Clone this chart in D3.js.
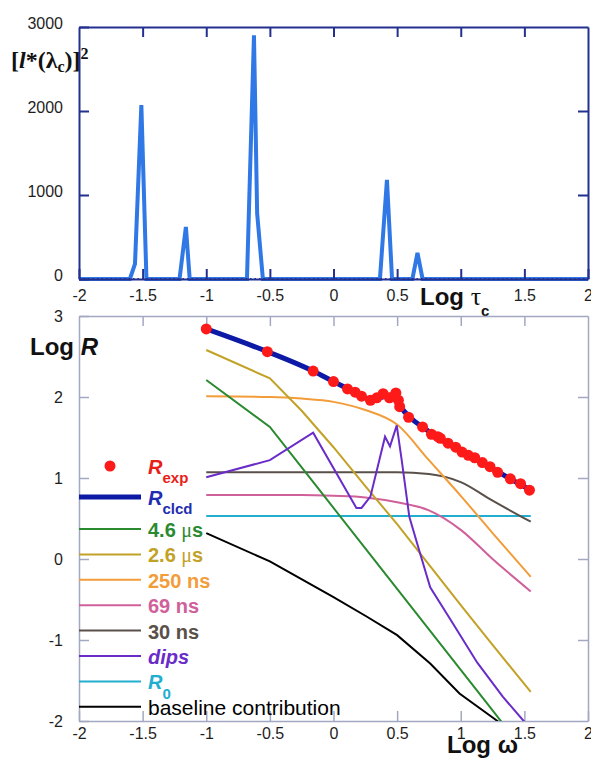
<!DOCTYPE html>
<html>
<head>
<meta charset="utf-8">
<script src="https://cdnjs.cloudflare.com/ajax/libs/d3/7.8.5/d3.min.js"></script>
<style>
  body { margin: 0; background: #fff; }
  svg { display: block; font-family: "Liberation Sans", Arial, sans-serif; }
</style>
</head>
<body>
<div class="canvas"></div>
<script>
// ---- top panel: [l*(lambda_c)]^2 vs log tau_c
const logTau  = [-2, -1.6, -1.56, -1.51, -1.47, -1.21, -1.16, -1.13, -0.68, -0.625, -0.6, -0.555, 0.365, 0.42, 0.46, 0.62, 0.66, 0.7, 2];
const lStarSq = [0, 0, 180, 2070, 0, 0, 620, 0, 0, 2900, 780, 0, 0, 1180, 0, 0, 310, 0, 0];
const tauTicks = [-2, -1.5, -1, -0.5, 0, 0.5, 1, 1.5, 2];
const lTicks = [0, 1000, 2000, 3000];

// ---- bottom panel: log R vs log omega
const rExpW = [-1.0, -0.52, -0.16, 0.0, 0.11, 0.17, 0.22, 0.29, 0.34, 0.39, 0.44, 0.49, 0.51, 0.52, 0.59, 0.70, 0.77, 0.82, 0.84, 0.90, 0.96, 1.01, 1.06, 1.11, 1.17, 1.23, 1.29, 1.39, 1.47, 1.54];
const rExp  = [2.84, 2.56, 2.32, 2.19, 2.10, 2.06, 2.01, 1.96, 1.99, 2.04, 1.99, 2.05, 1.96, 1.88, 1.75, 1.63, 1.54, 1.51, 1.49, 1.43, 1.38, 1.32, 1.28, 1.25, 1.19, 1.14, 1.07, 0.99, 0.93, 0.85];

const clcdW = [-1.0, -0.52, -0.16, 0.0, 0.1, 0.2, 0.29, 0.36, 0.42, 0.47, 0.5, 0.53, 0.6, 0.7, 0.8, 1.0, 1.2, 1.4, 1.55];
const rClcd = [2.84, 2.56, 2.32, 2.19, 2.11, 2.03, 1.97, 1.99, 2.01, 2.03, 1.98, 1.88, 1.75, 1.63, 1.52, 1.33, 1.16, 0.98, 0.85];

const compW  = [-1, -0.5, -0.25, 0, 0.25, 0.5, 0.75, 1, 1.25, 1.55];
const c46us  = [2.21, 1.63, 1.13, 0.63, 0.13, -0.37, -0.87, -1.37, -1.87, -2.47];
const c26us  = [2.58, 2.23, 1.83, 1.38, 0.90, 0.43, -0.07, -0.57, -1.06, -1.64];
const c250ns = [2.01, 2.0, 1.98, 1.94, 1.84, 1.66, 1.22, 0.78, 0.32, -0.22];
const c69ns  = [0.79, 0.79, 0.79, 0.78, 0.76, 0.70, 0.60, 0.36, 0.0, -0.40];
const c30ns  = [1.07, 1.07, 1.07, 1.07, 1.07, 1.07, 1.05, 0.95, 0.72, 0.46];
const cR0    = [0.53, 0.53, 0.53, 0.53, 0.53, 0.53, 0.53, 0.53, 0.53, 0.53];

const dipsW = [-1, -0.5, -0.16, 0.18, 0.22, 0.29, 0.405, 0.444, 0.497, 0.536, 0.596, 0.68, 0.76, 0.92, 1.13, 1.33, 1.55];
const dips  = [1.01, 1.22, 1.56, 0.63, 0.63, 0.77, 1.51, 1.39, 1.65, 1.22, 0.52, 0.07, -0.35, -0.75, -1.28, -1.70, -2.1];

const baseW = [-1, -0.5, 0, 0.26, 0.5, 0.76, 0.99, 1.28, 1.35];
const baseC = [0.32, -0.03, -0.47, -0.71, -0.94, -1.29, -1.66, -1.99, -2.08];

const omegaTicks = [-2, -1.5, -1, -0.5, 0, 0.5, 1, 1.5, 2];
const rTicks = [-2, -1, 0, 1, 2, 3];

const legendMain = ['R', 'R', '4.6 μs', '2.6 μs', '250 ns', '69 ns', '30 ns', 'dips', 'R', 'baseline contribution'];
const legendSub  = ['exp', 'clcd', '', '', '', '', '', '', '0', ''];

// colours
const cRed = '#ff1a1a', cBlue = '#0c1aa6', cGreen = '#2a8a30', cOlive = '#c2a226',
      cOrange = '#f29c3a', cPink = '#d0609a', cGrey = '#5a504a', cPurple = '#6a2cc8',
      cCyan = '#22aed0';

const W = 591, H = 758;
const svg = d3.select('.canvas')
  .append('svg')
  .attr('width', W)
  .attr('height', H);

const xTop = d3.scaleLinear().domain([-2, 2]).range([79, 588]);
const yTop = d3.scaleLinear().domain([0, 3000]).range([279, 27]);
const xBot = d3.scaleLinear().domain([-2, 2]).range([79, 588]);
const yBot = d3.scaleLinear().domain([-2, 3]).range([721, 316]);

const inner = tauTicks.filter(d => d > -2 && d < 2);

const styleAxis = (g, color, width) => {
  g.attr('font-size', 16).attr('font-family', '"Liberation Sans", Arial, sans-serif');
  g.select('.domain').attr('stroke', color).attr('stroke-width', width);
  g.selectAll('.tick line').attr('stroke', color).attr('stroke-width', width);
  g.selectAll('.tick text').attr('fill', '#1e1e1e');
};

// ---------- top panel ----------
const topPanel = svg.append('g');
const navy = '#23308f';

topPanel.append('path')
  .datum(d3.zip(logTau, lStarSq))
  .attr('fill', 'none')
  .attr('stroke', '#2f78e6')
  .attr('stroke-width', 4)
  .attr('stroke-linejoin', 'miter')
  .attr('d', d3.line().x(d => xTop(d[0])).y(d => yTop(d[1])));

// dotted look on the zero baseline
topPanel.append('line')
  .attr('x1', xTop(-2)).attr('x2', xTop(2))
  .attr('y1', yTop(0)).attr('y2', yTop(0))
  .attr('stroke', navy)
  .attr('stroke-width', 2)
  .attr('stroke-dasharray', '1.5 3');

// the "1" label sits under the axis title in the original
topPanel.append('g')
  .attr('transform', `translate(0, ${yTop(0)})`)
  .call(d3.axisBottom(xTop).tickValues(tauTicks).tickSizeInner(-10).tickSizeOuter(0)
    .tickPadding(11).tickFormat(d => d === 1 ? '' : String(d)))
  .call(g => styleAxis(g, navy, 2));

topPanel.append('g')
  .attr('transform', `translate(0, ${yTop(3000)})`)
  .call(d3.axisTop(xTop).tickValues(inner).tickSizeInner(-10).tickSizeOuter(0).tickFormat(''))
  .call(g => styleAxis(g, navy, 2));

topPanel.append('g')
  .attr('transform', `translate(${xTop(-2)}, 0)`)
  .call(d3.axisLeft(yTop).tickValues(lTicks).tickSizeInner(-10).tickSizeOuter(0)
    .tickPadding(16).tickFormat(d => String(d)))
  .call(g => styleAxis(g, navy, 2))
  .call(g => g.selectAll('.tick text').attr('dy', '0.1em'));

topPanel.append('g')
  .attr('transform', `translate(${xTop(2)}, 0)`)
  .call(d3.axisRight(yTop).tickValues(lTicks.slice(1, 3)).tickSizeInner(-10).tickSizeOuter(0).tickFormat(''))
  .call(g => styleAxis(g, navy, 2));

// y title
const yt = topPanel.append('text')
  .attr('x', 11).attr('y', 68)
  .attr('font-family', '"Liberation Serif", "Times New Roman", serif')
  .attr('font-weight', 'bold')
  .attr('font-size', 24)
  .attr('fill', '#111');
yt.append('tspan').text('[');
yt.append('tspan').attr('font-style', 'italic').text('l');
yt.append('tspan').text('*(λ');
yt.append('tspan').attr('font-size', 16).attr('dy', 4).text('c');
yt.append('tspan').attr('dy', -4).text(')]');
yt.append('tspan').attr('font-size', 16).attr('dy', -9).text('2');

// x title
const xt = topPanel.append('text')
  .attr('x', 420).attr('y', 305)
  .attr('font-weight', 'bold')
  .attr('font-size', 24)
  .attr('fill', '#111');
xt.append('tspan').text('Log ');
xt.append('tspan').attr('font-family', '"Liberation Serif", serif').attr('font-weight', 'normal').attr('font-size', 26).text('τ');
xt.append('tspan').attr('font-size', 15).attr('dy', 11).text('c');

// ---------- bottom panel ----------
const bot = svg.append('g');
const frameGrey = '#a3a8c2';

svg.append('clipPath').attr('id', 'clipBot')
  .append('rect')
  .attr('x', xBot(-2)).attr('y', yBot(3))
  .attr('width', xBot(2) - xBot(-2)).attr('height', yBot(-2) - yBot(3));

bot.append('g')
  .attr('transform', `translate(0, ${yBot(-2)})`)
  .call(d3.axisBottom(xBot).tickValues(omegaTicks).tickSizeInner(-10).tickSizeOuter(0)
    .tickPadding(7).tickFormat(d => String(d)))
  .call(g => styleAxis(g, frameGrey, 1.5));

bot.append('g')
  .attr('transform', `translate(0, ${yBot(3)})`)
  .call(d3.axisTop(xBot).tickValues(inner).tickSizeInner(-10).tickSizeOuter(0).tickFormat(''))
  .call(g => styleAxis(g, frameGrey, 1.5));

bot.append('g')
  .attr('transform', `translate(${xBot(-2)}, 0)`)
  .call(d3.axisLeft(yBot).tickValues(rTicks).tickSizeInner(-10).tickSizeOuter(0)
    .tickPadding(16).tickFormat(d => String(d)))
  .call(g => styleAxis(g, frameGrey, 1.5));

bot.append('g')
  .attr('transform', `translate(${xBot(2)}, 0)`)
  .call(d3.axisRight(yBot).tickValues(rTicks.slice(1, 5)).tickSizeInner(-10).tickSizeOuter(0).tickFormat(''))
  .call(g => styleAxis(g, frameGrey, 1.5));

const plot = bot.append('g').attr('clip-path', 'url(#clipBot)');

const curves = [
  { x: compW, y: cR0, color: cCyan, curve: d3.curveLinear },
  { x: compW, y: c30ns, color: cGrey, curve: d3.curveMonotoneX },
  { x: compW, y: c69ns, color: cPink, curve: d3.curveMonotoneX },
  { x: compW, y: c250ns, color: cOrange, curve: d3.curveMonotoneX },
  { x: compW, y: c26us, color: cOlive, curve: d3.curveLinear },
  { x: compW, y: c46us, color: cGreen, curve: d3.curveLinear },
  { x: baseW, y: baseC, color: '#000', curve: d3.curveLinear },
  { x: dipsW, y: dips, color: cPurple, curve: d3.curveLinear }
];

curves.forEach(c => {
  plot.append('path')
    .datum(d3.zip(c.x, c.y))
    .attr('fill', 'none')
    .attr('stroke', c.color)
    .attr('stroke-width', 2)
    .attr('d', d3.line().curve(c.curve).x(d => xBot(d[0])).y(d => yBot(d[1])));
});

plot.append('path')
  .datum(d3.zip(clcdW, rClcd))
  .attr('fill', 'none')
  .attr('stroke', cBlue)
  .attr('stroke-width', 5)
  .attr('d', d3.line().curve(d3.curveMonotoneX).x(d => xBot(d[0])).y(d => yBot(d[1])));

plot.selectAll('circle.rexp')
  .data(d3.zip(rExpW, rExp))
  .enter()
  .append('circle')
    .attr('class', 'rexp')
    .attr('cx', d => xBot(d[0]))
    .attr('cy', d => yBot(d[1]))
    .attr('r', 5.5)
    .attr('fill', cRed);

// legend
const legColors = [cRed, cBlue, cGreen, cOlive, cOrange, cPink, cGrey, cPurple, cCyan, '#000'];
const legTextColors = ['#e82018', '#1f2db0', cGreen, cOlive, cOrange, cPink, cGrey, cPurple, cCyan, '#000'];
const rowY = i => i < 2 ? 466 + i * 31 : 529 + (i - 2) * 25.4;
const legend = bot.append('g');

legendMain.forEach((label, i) => {
  const y = rowY(i);
  if (i === 0) {
    legend.append('circle').attr('cx', 110).attr('cy', y).attr('r', 5.5).attr('fill', legColors[i]);
  } else {
    legend.append('line')
      .attr('x1', 79).attr('x2', 141).attr('y1', y).attr('y2', y)
      .attr('stroke', legColors[i])
      .attr('stroke-width', i === 1 ? 5 : 2);
  }
  const t = legend.append('text')
    .attr('x', 148).attr('y', y + 8)
    .attr('font-size', i === 9 ? 21 : 20)
    .attr('font-weight', i === 9 ? 'normal' : 'bold')
    .attr('font-style', (label === 'R' || label === 'dips') ? 'italic' : 'normal')
    .attr('fill', legTextColors[i]);
  label.split('μ').forEach((part, k) => {
    if (k > 0) t.append('tspan').attr('font-family', '"Liberation Serif", serif').attr('font-weight', 'normal').text('μ');
    t.append('tspan').text(part);
  });
  if (legendSub[i]) {
    t.append('tspan')
      .attr('font-size', 15)
      .attr('font-style', 'normal')
      .attr('dy', i === 8 ? 10 : 9)
      .text(legendSub[i]);
  }
});

// axis titles
const yr = bot.append('text')
  .attr('x', 30).attr('y', 355)
  .attr('font-weight', 'bold').attr('font-size', 24).attr('fill', '#111');
yr.append('tspan').text('Log ');
yr.append('tspan').attr('font-style', 'italic').text('R');

bot.append('text')
  .attr('x', 447).attr('y', 753)
  .attr('font-weight', 'bold').attr('font-size', 24).attr('fill', '#111')
  .text('Log ω');
</script>
</body>
</html>
